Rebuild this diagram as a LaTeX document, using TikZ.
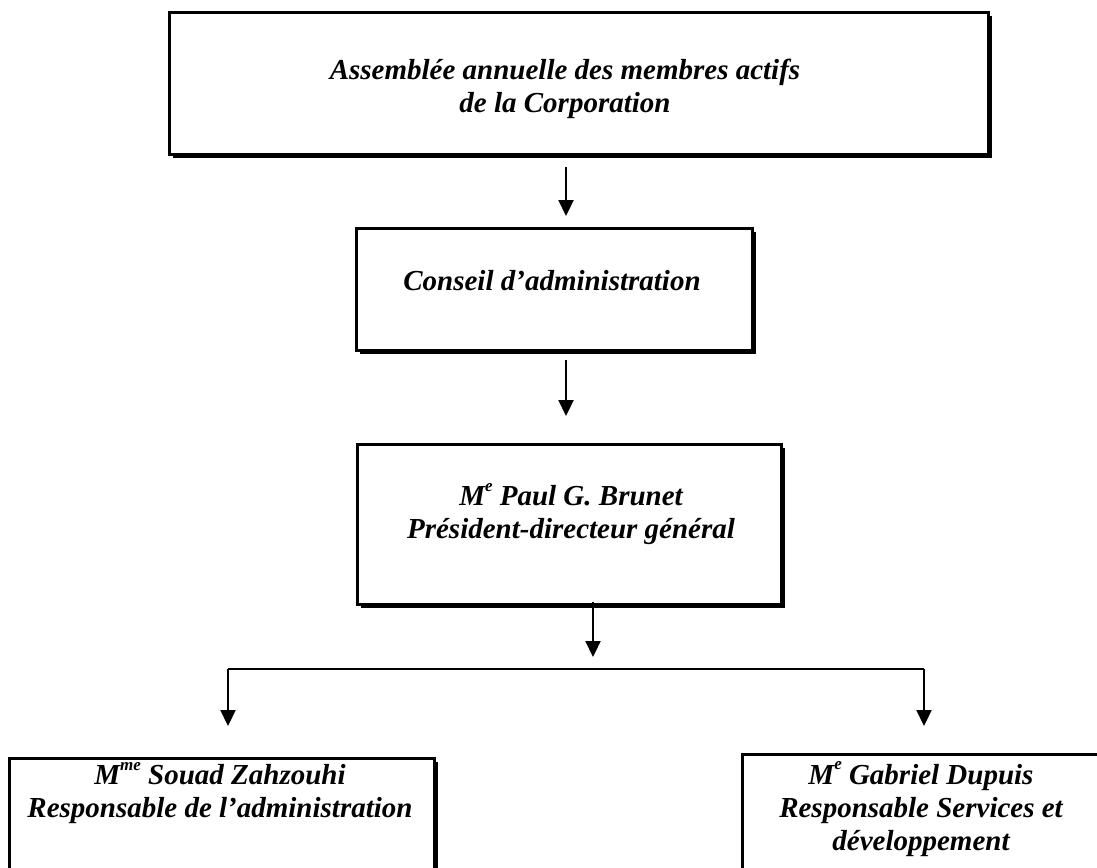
\documentclass[tikz,border=0pt]{standalone}
\usepackage{fontspec}
\setmainfont{Liberation Serif}
\usetikzlibrary{arrows.meta,shadows}
\newcommand\supx[1]{\raisebox{0.5em}{\fontsize{17}{17}\selectfont #1}}
\tikzset{
  orgbox/.style={draw=black, line width=2.6pt, fill=white, rectangle, inner sep=0pt,
    drop shadow={shadow xshift=3.6pt, shadow yshift=-3.6pt, fill=black, opacity=1}},
  orgtext/.style={align=center, inner sep=0pt, font=\fontsize{29}{33}\selectfont\bfseries\itshape},
  conn/.style={line width=2.2pt, -{Triangle[length=16pt,width=15pt]}},
  branch/.style={line width=2.2pt}
}
\begin{document}
\begin{tikzpicture}[x=1pt,y=-1pt]
\useasboundingbox (0,0) rectangle (1097,867);
\clip (0,0) rectangle (1097,867);
% boxes
\node[orgbox, minimum width=819pt, minimum height=142pt, anchor=north west] (b1) at (168,11) {};
\node[orgbox, minimum width=396pt, minimum height=122pt, anchor=north west] (b2) at (355,227) {};
\node[orgbox, minimum width=424pt, minimum height=160pt, anchor=north west] (b3) at (356,443) {};
\node[orgbox, minimum width=425pt, minimum height=140pt, anchor=north west] (b4) at (8,757) {};
\node[orgbox, minimum width=400pt, minimum height=140pt, anchor=north west] (b5) at (741,753) {};
% texts
\node[orgtext] (t1) at (565,89) {Assembl\'ee annuelle des membres actifs\\de la Corporation};
\node[orgtext] (t2) at (552,281) {Conseil d'administration};
\node[orgtext] (t3) at (571,514) {M\supx{e} Paul G. Brunet\\Pr\'esident-directeur g\'en\'eral};
\node[orgtext] (t4) at (220,793) {M\supx{me} Souad Zahzouhi\\Responsable de l'administration};
\node[orgtext] (t5) at (921,809) {M\supx{e} Gabriel Dupuis\\Responsable Services et\\d\'eveloppement};
% connector points
\coordinate (a1s) at (566,167);
\coordinate (a1e) at (566,216);
\coordinate (a2s) at (566,360);
\coordinate (a2e) at (566,416);
\coordinate (a3s) at (593,602);
\coordinate (a3e) at (593,657);
\coordinate (bl) at (228,669);
\coordinate (br) at (924,669);
\coordinate (ble) at (228,726);
\coordinate (bre) at (924,726);
% connectors
\draw[conn] (a1s) -- (a1e);
\draw[conn] (a2s) -- (a2e);
\draw[conn] (a3s) -- (a3e);
\draw[branch] (bl) -- (br);
\draw[conn] (bl) -- (ble);
\draw[conn] (br) -- (bre);
\end{tikzpicture}
\end{document}
